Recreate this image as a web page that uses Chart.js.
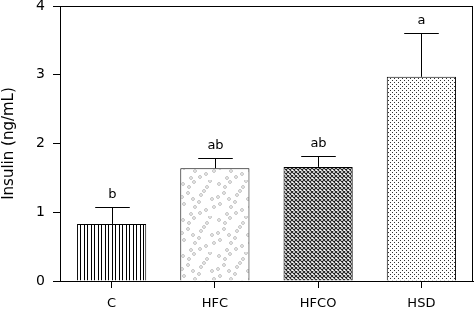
<!DOCTYPE html>
<html lang="en">
<head>
    <meta charset="UTF-8">
    <title>Insulin</title>
    <script src="https://cdn.jsdelivr.net/npm/chart.js"></script>
    <style>
        body { margin: 0; background: #fff; }
        #chart { display: block; }
    </style>
</head>
<body>
    <canvas id="chart" width="474" height="312"></canvas>
    <script>
        // data
        var groups = ['C', 'HFC', 'HFCO', 'HSD'];
        var insulin = [0.83, 1.64, 1.66, 2.97];
        var sem = [0.24, 0.15, 0.16, 0.64];
        var letters = ['b', 'ab', 'ab', 'a'];
        var yTicks = [0, 1, 2, 3, 4];

        var FONT = '"DejaVu Sans", Verdana, sans-serif';

        function tile(w, h, draw) {
            var c = document.createElement('canvas');
            c.width = w; c.height = h;
            var g = c.getContext('2d');
            g.fillStyle = '#fff';
            g.fillRect(0, 0, w, h);
            draw(g);
            return g.createPattern(c, 'repeat');
        }

        // vertical stripes
        var pStripes = tile(7, 4, function (g) {
            g.fillStyle = '#000';
            g.fillRect(0, 0, 1, 4);
            g.fillRect(3, 0, 1, 4);
        });
        // scattered little circles
        var pCircles = tile(36, 36, function (g) {
            var spots = [[3,4],[14,2],[27,7],[8,13],[21,15],[32,19],[4,24],[15,27],[26,30],[11,34],[30,1],[19,22],
                         [9,7],[24,11],[2,17],[34,27],[20,33],[13,19]];
            g.strokeStyle = '#aaa';
            g.lineWidth = 0.8;
            spots.forEach(function (s) {
                g.beginPath();
                g.arc(s[0], s[1], 1.4, 0, Math.PI * 2);
                g.stroke();
            });
        });
        // cross hatch
        var pHatch = tile(4, 4, function (g) {
            g.strokeStyle = '#222';
            g.lineWidth = 1.1;
            g.beginPath();
            g.moveTo(0, 0); g.lineTo(4, 4);
            g.moveTo(4, 0); g.lineTo(0, 4);
            g.stroke();
        });
        // dots
        var pDots = tile(4, 4, function (g) {
            g.fillStyle = '#333';
            g.fillRect(0, 0, 1, 1);
            g.fillRect(2, 2, 1, 1);
        });

        // error bars, letters and frame
        var extras = {
            id: 'extras',
            afterDatasetsDraw: function (chart) {
                var ctx = chart.ctx;
                var y = chart.scales.y;
                var meta = chart.getDatasetMeta(0);
                ctx.save();
                ctx.strokeStyle = '#000';
                ctx.lineWidth = 1;
                ctx.fillStyle = '#000';
                ctx.font = '13px ' + FONT;
                ctx.textAlign = 'center';
                ctx.textBaseline = 'bottom';
                meta.data.forEach(function (bar, i) {
                    var cx = Math.round(bar.x) + 0.5;
                    var yTop = y.getPixelForValue(insulin[i]);
                    var yErr = Math.round(y.getPixelForValue(insulin[i] + sem[i])) + 0.5;
                    var half = bar.width / 4;
                    ctx.beginPath();
                    ctx.moveTo(cx, yTop);
                    ctx.lineTo(cx, yErr);
                    ctx.moveTo(cx - half, yErr);
                    ctx.lineTo(cx + half, yErr);
                    ctx.stroke();
                    ctx.fillText(letters[i], cx, yErr - 6);
                });
                var a = chart.chartArea;
                ctx.strokeRect(Math.round(a.left) + 0.5, Math.round(a.top) + 0.5,
                    Math.round(a.right - a.left) - 1, Math.round(a.bottom - a.top));
                ctx.restore();
            }
        };

        new Chart(document.getElementById('chart'), {
            type: 'bar',
            data: {
                labels: groups,
                datasets: [{
                    data: insulin,
                    backgroundColor: [pStripes, pCircles, pHatch, pDots],
                    borderColor: '#000',
                    borderWidth: 1,
                    barPercentage: 0.67,
                    categoryPercentage: 1
                }]
            },
            options: {
                responsive: false,
                animation: false,
                layout: { padding: { top: 6, right: 1, left: 0, bottom: 0 } },
                plugins: { legend: { display: false }, tooltip: { enabled: false } },
                scales: {
                    x: {
                        grid: { display: true, drawOnChartArea: false, offset: false, color: '#000', tickLength: 7, tickWidth: 1 },
                        border: { color: '#000' },
                        ticks: { color: '#000', font: { family: FONT, size: 13 }, padding: 8, maxRotation: 0 },
                        afterFit: function (s) { s.height = 31; s.paddingLeft = 0; s.paddingRight = 0; }
                    },
                    y: {
                        min: 0, max: 4,
                        afterBuildTicks: function (s) { s.ticks = yTicks.map(function (v) { return { value: v }; }); },
                        grid: { display: true, drawOnChartArea: false, color: '#000', tickLength: 7 },
                        border: { color: '#000' },
                        ticks: { color: '#000', font: { family: FONT, size: 14 }, padding: 8 },
                        title: { display: true, text: 'Insulin (ng/mL)', color: '#000', font: { family: FONT, size: 15 }, padding: 0 },
                        afterFit: function (s) { s.width = 60; s.paddingTop = 0; s.paddingBottom = 0; }
                    }
                }
            },
            plugins: [extras]
        });
    </script>
</body>
</html>
